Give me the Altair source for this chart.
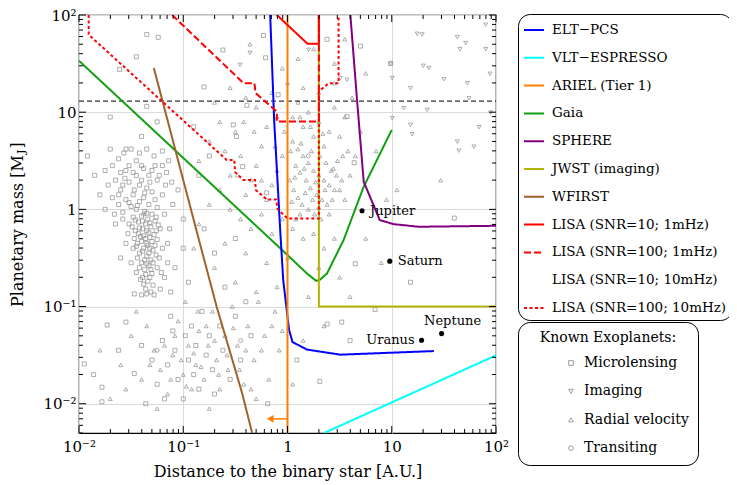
import altair as alt
import pandas as pd

W, H = 417, 418
FONT = "DejaVu Serif"

# ---------------- sensitivity curves: (log10 a [AU], log10 M [M_J])
elt_pcs = [(-0.166, 2.0), (-0.128, 0.917), (-0.070, -0.213), (-0.041, -0.729), (-0.0125, -0.987),
           (0.0, -1.110), (0.016, -1.244), (0.048, -1.365), (0.187, -1.443), (0.507, -1.495), (1.404, -1.458)]
vlt_espresso = [(0.346, -2.303), (2.0, -1.502)]
ariel = [(0.0, -2.31), (0.0, 2.0)]
gaia = [(-2.0, 1.529), (0.0, -0.47), (0.187, -0.66), (0.276, -0.736), (0.314, -0.722), (0.379, -0.66),
        (0.442, -0.523), (0.538, -0.316), (0.731, 0.233), (1.0, 0.817)]
sphere = [(0.603, 2.0), (0.667, 1.127), (0.731, 0.285), (0.885, -0.11), (1.019, -0.152), (1.26, -0.179), (2.0, -0.169)]
jwst = [(0.301, 2.0), (0.301, -1.0), (2.0, -1.0)]
wfirst = [(-1.282, 1.454), (-0.849, -0.316), (-0.679, -1.004), (-0.551, -1.468), (-0.433, -1.90), (-0.337, -2.31)]
lisa_10_1 = [(-0.102, 2.0), (0.192, 1.704), (0.301, 1.704), (0.301, 2.0)]
lisa_100_1 = [(-1.106, 2.0), (-0.423, 1.299), (-0.317, 1.299), (-0.306, 1.196), (-0.102, 1.006), (-0.102, 0.903),
              (0.301, 0.903), (0.301, 2.0)]
lisa_100_10 = [(-1.907, 2.0), (-1.907, 1.797), (-0.583, 0.508), (-0.510, 0.508), (-0.503, 0.385), (-0.423, 0.302),
               (-0.311, 0.302), (-0.304, 0.199), (-0.198, 0.101), (-0.109, 0.101), (-0.096, 0.003), (0.0, -0.093),
               (0.301, -0.093), (0.301, 1.212), (0.394, 1.299), (0.490, 1.299), (0.490, 2.0)]

deuterium_limit = 13.0
ariel_arrow = [(-0.166, -2.155), (0.0, -2.155)]

legend_names = ["ELT\u2212PCS", "VLT\u2212ESPRESSO", "ARIEL (Tier 1)", "Gaia", "SPHERE", "JWST (imaging)", "WFIRST",
                "LISA (SNR=10; 1mHz)", "LISA (SNR=100; 1mHz)", "LISA (SNR=10; 10mHz)", "LISA (SNR=100; 10mHz)"]
legend_colors = ["#0000ff", "#00ffff", "#ff8000", "#12a012", "#800080", "#b4b400", "#a0622d",
                 "#ff0000", "#ff0000", "rgba(255,255,255,0)", "#ff0000"]
legend_dashes = [[1, 0]] * 8 + [[7, 3], [1, 0], [3, 2.5]]

draw_order = [("Gaia", gaia), ("WFIRST", wfirst), ("ELT\u2212PCS", elt_pcs), ("VLT\u2212ESPRESSO", vlt_espresso),
              ("ARIEL (Tier 1)", ariel), ("SPHERE", sphere), ("JWST (imaging)", jwst),
              ("LISA (SNR=10; 1mHz)", lisa_10_1), ("LISA (SNR=100; 1mHz)", lisa_100_1),
              ("LISA (SNR=100; 10mHz)", lisa_100_10)]

# ---------------- solar-system planets (log10 a, log10 M)
planets = ["Jupiter", "Saturn", "Uranus", "Neptune"]
planet_lx = [0.715, 0.981, 1.286, 1.478]
planet_lm = [-0.014, -0.533, -1.347, -1.278]

# ---------------- known exoplanets (log10 a, log10 M)
microlensing = [
    (-1.45, 0.35), (-1.40, 0.30), (-1.52, 0.28), (-1.35, 0.22), (-1.60, 0.20), (-1.30, 0.18), (-1.48, 0.15),
    (-1.38, 0.12), (-1.55, 0.10), (-1.42, 0.08), (-1.33, 0.05), (-1.50, 0.03), (-1.25, 0.02), (-1.45, 0.0),
    (-1.37, -0.02), (-1.58, -0.03), (-1.30, -0.05), (-1.40, -0.07), (-1.48, -0.08), (-1.34, -0.10),
    (-1.27, -0.12), (-1.43, -0.13), (-1.36, -0.15), (-1.52, -0.15), (-1.31, -0.18), (-1.39, -0.20),
    (-1.46, -0.22), (-1.33, -0.24), (-1.28, -0.26), (-1.41, -0.28), (-1.36, -0.30), (-1.30, -0.33),
    (-1.44, -0.35), (-1.34, -0.37), (-1.38, -0.40), (-1.29, -0.42), (-1.42, -0.45), (-1.35, -0.48),
    (-1.31, -0.52), (-1.40, -0.55), (-1.33, -0.58), (-1.37, -0.62), (-1.30, -0.66), (-1.39, -0.70),
    (-1.34, -0.74), (-1.29, -0.78), (-1.36, -0.82), (-1.62, 0.05), (-1.68, 0.12), (-1.72, 0.25), (-1.55, 0.40),
    (-1.25, 0.30), (-1.20, 0.15), (-1.18, -0.05), (-1.22, -0.20), (-1.15, -0.35), (-1.23, -0.50), (-1.48, -0.40),
    (-1.53, -0.25), (-1.58, -0.10), (-1.65, -0.15), (-1.75, 0.00), (-1.80, 0.15), (-1.85, 0.35), (-1.20, 0.45),
    (-1.05, 0.20), (-1.10, 0.05), (-1.00, -0.10), (-1.08, -0.60), (-1.12, -0.85), (-1.45, -0.65), (-1.50, -0.55),
    (-1.42, 0.25), (-1.32, 0.28), (-1.47, 0.20), (-1.37, 0.17), (-1.27, 0.10), (-1.52, 0.07), (-1.44, 0.04),
    (-1.35, -0.04), (-1.26, -0.08), (-1.46, -0.11), (-1.39, -0.12), (-1.32, -0.14), (-1.24, -0.16),
    (-1.49, -0.18), (-1.42, -0.19), (-1.35, -0.22), (-1.26, -0.22), (-1.43, -0.25), (-1.38, -0.27),
    (-1.32, -0.29), (-1.25, -0.31), (-1.47, -0.30), (-1.40, -0.33), (-1.35, -0.35), (-1.27, -0.37),
    (-1.45, -0.38), (-1.32, -0.40), (-1.39, -0.43), (-1.33, -0.45), (-1.26, -0.47), (-1.44, -0.50),
    (-1.37, -0.52), (-1.29, -0.55), (-1.35, -0.56), (-1.42, -0.60), (-1.31, -0.62), (-1.36, -0.67),
    (-1.41, -0.72), (-1.32, -0.70), (-1.38, -0.77), (-1.31, -0.85), (-1.40, -0.88), (-1.56, 0.32),
    (-1.62, 0.15), (-1.66, -0.05), (-1.55, -0.35), (-1.60, -0.50), (-1.21, -0.65), (-1.17, 0.25), (-1.13, -0.20),
    (-1.68, 0.45), (-1.62, 0.52), (-1.57, 0.58), (-1.50, 0.62), (-1.42, 0.58), (-1.35, 0.62), (-1.28, 0.55),
    (-1.20, 0.60), (-1.14, 0.50), (-1.60, 0.38), (-1.52, 0.45), (-1.45, 0.50), (-1.38, 0.42), (-1.30, 0.40),
    (-1.23, 0.35), (-1.16, 0.38), (-1.65, 0.30), (-1.58, 0.25), (-1.48, 0.38), (-1.40, 0.45), (-1.33, 0.35),
    (-1.27, 0.45), (-1.11, 0.28), (-1.75, 0.40), (-1.70, 0.62), (-1.25, -0.60), (-1.20, -0.40), (-1.18, -0.70),
    (-1.28, -0.88), (-1.22, -0.82), (-1.15, -0.55),
    (-1.35, 1.80), (-1.24, 1.77), (-1.45, 1.57), (-1.61, 1.44), (-1.35, 1.06), (-1.55, 0.62), (-1.40, 0.75),
    (-1.25, 0.90), (-1.70, 0.95), (-0.90, 0.85), (-0.75, 0.55), (-0.85, 0.35), (-1.92, 0.55),
    (-1.95, -1.59), (-1.86, -1.70), (-1.78, -1.83), (-1.78, -1.98), (-1.73, -1.19), (-1.55, -1.16), (-1.47, -1.69),
    (-1.36, -2.00), (-1.35, -0.87), (-1.47, -0.87), (-1.62, -1.45), (-1.40, -1.40), (-1.30, -1.55), (-1.25, -1.80),
    (-1.20, -1.35), (-1.15, -1.60), (-1.12, -1.10), (-1.08, -1.45), (-1.05, -1.75), (-1.00, -1.95), (-0.98, -1.30),
    (-0.95, -1.55), (-0.92, -1.20), (-0.90, -1.70), (-0.88, -1.40), (-0.85, -1.85), (-0.82, -1.05), (-0.78, -1.50),
    (-0.75, -1.30), (-0.72, -1.65), (-0.70, -1.90), (-0.65, -1.20), (-0.62, -1.45), (-0.55, -1.75), (-0.50, -1.10),
    (-0.45, -1.55), (-0.40, -0.95), (-0.35, -1.30), (-1.10, -1.25), (-1.18, -1.95), (-0.60, -0.80), (-0.95, -0.75),
    (-1.00, -0.40), (-0.70, -0.45), (-0.80, -0.20), (-0.50, -0.30),
    (-0.23, 1.79), (-0.21, 1.56), (0.379, 1.75), (0.70, 1.68), (0.99, 1.50), (0.571, 0.955), (0.64, 0.48),
    (1.60, -0.09), (-0.39, 1.07), (-0.09, 1.18), (-0.52, 0.87), (-0.49, 0.75), (-0.43, 0.44), (-0.20, 0.17),
    (0.65, -0.56), (0.84, -1.03), (1.18, -0.75), (0.38, -1.18), (0.60, -1.35), (0.31, -1.77), (-0.19, -2.00),
    (0.09, -1.55), (0.52, -1.16), (-0.80, 1.26), (-0.62, 1.64)]
imaging = [
    (1.244, 1.807), (1.292, 1.800), (1.629, 1.773), (1.709, 1.711), (1.654, 1.649), (1.901, 1.649), (1.901, 1.90),
    (1.302, 1.477), (1.356, 1.454), (0.988, 1.498), (1.004, 1.351), (1.50, 1.34), (1.725, 1.299), (1.942, 1.395),
    (1.18, 1.247), (1.74, 1.144), (1.34, 1.024), (1.115, 1.041), (1.004, 0.938), (1.18, 0.869), (1.196, 0.773),
    (1.629, 0.697), (1.644, 0.604), (1.788, 0.645), (1.837, 0.845), (1.949, 0.996), (0.507, 1.351), (0.571, 1.333),
    (0.202, 1.642), (-0.455, 1.488), (-0.36, 1.61)]
radial_velocity = [
    (0.05, 0.70), (0.10, 0.62), (0.15, 0.55), (0.20, 0.48), (0.25, 0.40), (0.30, 0.35), (0.35, 0.30), (0.40, 0.25),
    (0.45, 0.20), (0.08, 0.45), (0.12, 0.38), (0.18, 0.30), (0.22, 0.22), (0.28, 0.15), (0.33, 0.10), (0.38, 0.05),
    (0.02, 0.30), (0.06, 0.20), (0.10, 0.12), (0.14, 0.05), (0.20, 0.00), (0.26, -0.05), (0.32, -0.10),
    (0.42, 0.40), (0.48, 0.50), (0.52, 0.30), (0.55, 0.10), (0.58, 0.60), (0.35, 0.65), (0.25, 0.75), (0.15, 0.85),
    (0.05, 0.95), (0.40, 0.80), (0.30, 0.90), (0.20, 1.00), (0.10, 1.10), (0.45, 1.05), (0.55, 0.95), (0.50, 0.75),
    (-0.05, 0.55), (-0.10, 0.40), (-0.15, 0.25), (-0.20, 0.10), (-0.25, 0.65), (-0.30, 0.45), (-0.35, 0.30),
    (-0.40, 0.15), (-0.45, 0.55), (-0.50, 0.80), (-0.55, 0.35), (-0.60, 0.60), (-0.20, 0.85), (-0.10, 0.95),
    (-0.30, 1.05), (-0.15, 1.20), (-0.40, 1.15), (0.00, 1.30), (0.15, 1.25), (0.30, 1.20), (0.45, 1.30),
    (-0.65, 0.90), (-0.75, 0.70), (-0.85, 0.50), (-0.70, 1.10), (-0.55, 1.25), (0.60, 0.35), (0.65, 0.55),
    (0.70, 0.80), (0.62, 1.15), (0.75, 1.40),
    (0.03, 0.60), (0.13, 0.68), (0.23, 0.60), (0.31, 0.55), (0.37, 0.48), (0.44, 0.42), (0.07, 0.33), (0.16, 0.42),
    (0.27, 0.28), (0.36, 0.20), (0.43, 0.10), (0.50, 0.20), (0.04, 0.08), (0.12, -0.05), (0.24, 0.10), (0.30, 0.02),
    (0.40, -0.05), (0.17, 0.17), (0.08, -0.10), (0.47, 0.35), (0.53, 0.55), (0.22, 0.85), (0.34, 0.78),
    (0.12, 0.95), (-0.03, 0.80), (-0.12, 0.65), (-0.25, 0.30), (-0.32, 0.80), (-0.42, 0.90), (-0.48, 0.35),
    (0.05, -0.20), (0.15, -0.30), (0.25, -0.25), (0.35, -0.40), (0.45, -0.30), (-0.05, -0.10), (-0.15, -0.25),
    (-0.25, -0.05), (-0.35, -0.20), (-0.45, -0.10), (-0.55, 0.00), (-0.65, 0.20), (-0.75, 0.05), (-0.85, -0.15),
    (-0.60, -0.35), (-0.40, -0.45), (-0.20, -0.55), (0.00, -0.50), (0.30, -0.60), (-0.70, -0.60), (-0.90, -0.40),
    (-0.50, -0.75), (-0.30, -0.85), (-0.10, -0.80), (0.20, -0.90), (0.50, -0.70),
    (-1.80, -1.45), (-1.60, -1.60), (-1.50, -1.30), (-1.40, -1.75), (-1.35, -1.20), (-1.28, -1.45), (-1.22, -1.65),
    (-1.15, -1.90), (-1.10, -1.50), (-1.05, -1.15), (-1.00, -1.70), (-0.95, -1.40), (-0.92, -1.85), (-0.88, -1.60),
    (-0.85, -1.25), (-0.80, -1.75), (-0.76, -1.40), (-0.72, -1.05), (-0.68, -1.55), (-0.65, -1.85), (-0.60, -1.30),
    (-0.57, -1.65), (-0.53, -1.00), (-0.48, -1.40), (-0.42, -1.80), (-0.38, -1.20), (-0.32, -1.55), (-0.28, -0.95),
    (-0.22, -1.30), (-0.18, -1.75), (-0.12, -1.05), (-0.08, -1.45), (-1.70, -1.95), (-1.25, -2.05), (-0.75, -2.05),
    (-1.45, -1.05), (-0.98, -0.95),
    (-1.55, -1.85), (-1.32, -1.60), (-1.18, -1.40), (-1.02, -1.55), (-0.90, -1.48), (-0.83, -1.62), (-0.78, -1.20),
    (-0.70, -1.35), (-0.66, -1.70), (-0.58, -1.50), (-0.52, -1.22), (-0.46, -1.65), (-0.40, -1.45), (-0.35, -1.85),
    (-0.25, -1.45), (-0.15, -1.20), (-1.12, -1.75), (-0.97, -1.82), (-0.86, -1.05), (-1.08, -1.30),
    (-0.36, 1.70), (0.10, 1.55), (0.25, 1.65), (0.45, 1.50), (0.55, 1.75), (-0.05, 1.45), (1.47, 0.30),
    (1.05, 0.20), (0.85, 0.60), (0.95, 0.10), (0.75, -0.30), (0.90, -0.55), (0.60, -0.90), (0.35, -1.20),
    (0.15, -1.35), (-0.05, -1.25), (0.05, -1.80), (-0.30, -1.95)]
transiting = [(-1.38, -0.05), (-1.25, -1.45), (-0.45, -1.35), (0.20, 0.55)]
method_names = ["Microlensing", "Imaging", "Radial velocity", "Transiting"]
method_shapes = ["square", "triangle-down", "triangle-up", "circle"]

# ---------------- tables
def curve(name, pts):
    return pd.DataFrame({"a": [10 ** p[0] for p in pts], "m": [10 ** p[1] for p in pts],
                         "i": list(range(len(pts))), "inst": name})

rows = []
for name, pts in zip(method_names, [microlensing, imaging, radial_velocity, transiting]):
    for lx, lm in pts:
        rows.append({"a": 10 ** lx, "m": 10 ** lm, "method": name})
exo = pd.DataFrame(rows)
pl = pd.DataFrame({"a": [10 ** v for v in planet_lx], "m": [10 ** v for v in planet_lm], "name": planets})

xs = alt.Scale(type="log", domain=[0.01, 100], nice=False)
ys = alt.Scale(type="log", domain=[0.005, 100], nice=False)
lab = ("datum.value > 50 ? '10\u00b2' : datum.value > 5 ? '10' : datum.value > 0.5 ? '1' : "
       "datum.value > 0.05 ? '10\u207b\u00b9' : '10\u207b\u00b2'")
common_axis = dict(values=[0.01, 0.1, 1, 10, 100], labelExpr=lab, grid=True, gridColor="#dadada", gridWidth=1,
                   ticks=False, domain=False, labelFont=FONT, labelFontSize=15, labelColor="black",
                   labelFlush=False, labelOverlap=False)
xaxis = alt.Axis(title="Distance to the binary star [A.U.]", labelPadding=6, titleFont=FONT, titleFontSize=16,
                 titleFontWeight="normal", titleColor="black", titlePadding=9, **common_axis)
yaxis = alt.Axis(title=None, labelPadding=3, **common_axis)
X = alt.X("a:Q", scale=xs, axis=xaxis)
Y = alt.Y("m:Q", scale=ys, axis=yaxis)

leg1 = alt.Legend(title=None, orient="none", legendX=439, legendY=-1, symbolType="stroke", symbolSize=400,
                  symbolStrokeWidth=2, labelFont=FONT, labelFontSize=13.5, labelColor="black", labelLimit=400,
                  rowPadding=9.8, padding=5, strokeColor="black", cornerRadius=12, fillColor="white",
                  labelOffset=7)
color_enc = alt.Color("inst:N", scale=alt.Scale(domain=legend_names, range=legend_colors), legend=leg1)
dash_enc = alt.StrokeDash("inst:N", scale=alt.Scale(domain=legend_names, range=legend_dashes), legend=leg1)

pad = "\u00a0" * 9
leg2 = alt.Legend(title="Known Exoplanets:", orient="none", legendX=439, legendY=307, titleFont=FONT,
                  titleFontSize=14, titleFontWeight="normal", titleColor="black", titleAnchor="middle",
                  titlePadding=11, labelFont=FONT, labelFontSize=14, labelColor="black", labelLimit=400,
                  rowPadding=14.4, padding=9, strokeColor="black", cornerRadius=12, fillColor="white",
                  symbolOffset=37, symbolSize=22, symbolStrokeColor="#888888", symbolFillColor="white",
                  symbolStrokeWidth=0.8, labelOffset=6, labelExpr="datum.label + '" + pad + "'")

layers = []
layers.append(alt.Chart(exo).mark_point(filled=False, size=16, strokeWidth=0.7, color="#8c8c8c", opacity=1).encode(
    x=X, y=Y, shape=alt.Shape("method:N", scale=alt.Scale(domain=method_names, range=method_shapes), legend=leg2)))
layers.append(alt.Chart(pd.DataFrame({"m": [deuterium_limit]})).mark_rule(
    color="black", strokeDash=[5, 3], strokeWidth=1).encode(y=Y, x=alt.value(0), x2=alt.value(W)))
for name, pts in draw_order:
    layers.append(alt.Chart(curve(name, pts)).mark_line(strokeWidth=2, clip=True).encode(
        x=X, y=Y, order=alt.Order("i:Q"), color=color_enc, strokeDash=dash_enc))

arr = pd.DataFrame({"a": [10 ** ariel_arrow[0][0]], "a2": [10 ** ariel_arrow[1][0]], "m": [10 ** ariel_arrow[0][1]]})
layers.append(alt.Chart(arr).mark_rule(color="#ff8000", strokeWidth=1.5).encode(x=X, x2="a2:Q", y=Y))
layers.append(alt.Chart(arr).mark_point(shape="triangle-left", filled=True, size=60, color="#ff8000", opacity=1).encode(
    x=X, y=Y))

layers.append(alt.Chart(pl).mark_circle(size=26, color="black", opacity=1).encode(x=X, y=Y))
for names, kw in [(["Jupiter", "Saturn"], dict(align="left", dx=8, dy=0)),
                  (["Uranus"], dict(align="right", dx=-7, dy=0)),
                  (["Neptune"], dict(align="center", dx=11, dy=-13))]:
    layers.append(alt.Chart(pl[pl.name.isin(names)]).mark_text(
        font=FONT, fontSize=13, color="black", baseline="middle", **kw).encode(x=X, y=Y, text="name:N"))

# inward ticks on all four sides
xt_major = [0.01, 0.1, 1, 10, 100]
xt_minor = [k * d for d in [0.01, 0.1, 1, 10] for k in range(2, 10)]
yt_major = [0.01, 0.1, 1, 10, 100]
yt_minor = [k * 0.001 for k in range(5, 10)] + [k * d for d in [0.01, 0.1, 1, 10] for k in range(2, 10)]
for vals, ln in [(xt_major, 7), (xt_minor, 4)]:
    d = pd.DataFrame({"a": vals})
    layers.append(alt.Chart(d).mark_rule(color="black", strokeWidth=1).encode(x=X, y=alt.value(H), y2=alt.value(H - ln)))
    layers.append(alt.Chart(d).mark_rule(color="black", strokeWidth=1).encode(x=X, y=alt.value(0), y2=alt.value(ln)))
for vals, ln in [(yt_major, 7), (yt_minor, 4)]:
    d = pd.DataFrame({"m": vals})
    layers.append(alt.Chart(d).mark_rule(color="black", strokeWidth=1).encode(y=Y, x=alt.value(0), x2=alt.value(ln)))
    layers.append(alt.Chart(d).mark_rule(color="black", strokeWidth=1).encode(y=Y, x=alt.value(W), x2=alt.value(W - ln)))

# y-axis title with subscript J
layers.append(alt.Chart(pd.DataFrame({"t": [0]})).mark_text(
    font=FONT, fontSize=16, angle=270, align="left", baseline="middle", color="black").encode(
    x=alt.value(-61), y=alt.value(292), text=alt.value("Planetary mass [M")))
layers.append(alt.Chart(pd.DataFrame({"t": [0]})).mark_text(
    font=FONT, fontSize=11, angle=270, align="left", baseline="middle", color="black").encode(
    x=alt.value(-57), y=alt.value(139), text=alt.value("J")))
layers.append(alt.Chart(pd.DataFrame({"t": [0]})).mark_text(
    font=FONT, fontSize=16, angle=270, align="left", baseline="middle", color="black").encode(
    x=alt.value(-61), y=alt.value(133.5), text=alt.value("]")))

chart = alt.layer(*layers).properties(
    width=W, height=H, autosize=alt.AutoSizeParams(type="none"),
    padding={"left": 71, "top": 7, "right": 233, "bottom": 52}, background="white"
).configure(font=FONT).configure_view(stroke="black", strokeWidth=1.2).configure_legend(
    labelFont=FONT, labelFontSize=14, labelColor="black", titleFont=FONT, titleFontSize=14,
    titleFontWeight="normal", titleColor="black")

chart.save("out.html", embed_options={"renderer": "svg", "actions": False})
